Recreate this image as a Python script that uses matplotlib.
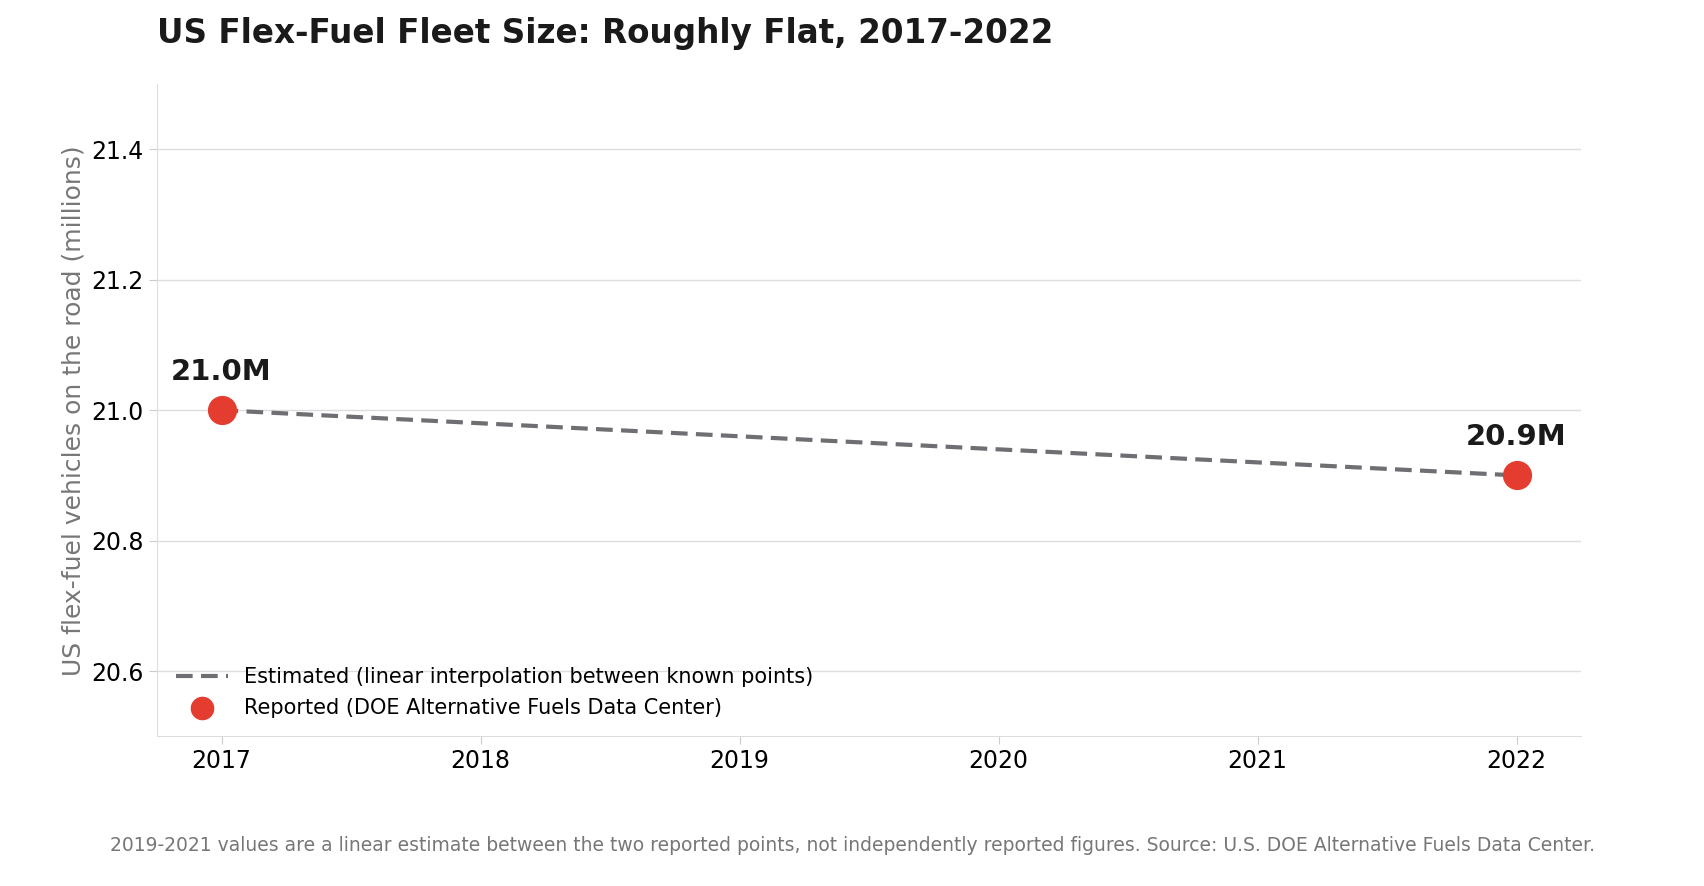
import matplotlib
matplotlib.use("Agg")
import matplotlib.pyplot as plt
plt.rcParams['font.family'] = ['DejaVu Sans']

years = [2017, 2018, 2019, 2020, 2021, 2022]
estimated = [21.0, 20.98, 20.96, 20.94, 20.92, 20.9]
rep_years = [2017, 2022]
reported = [21.0, 20.9]
rep_labels = ["21.0M", "20.9M"]

fig = plt.figure(figsize=(17.04, 8.86), dpi=100)
ax = fig.add_axes([0.092, 0.169, 0.836, 0.736])
ax.plot(years, estimated, ls="--", color="#6e6e73", lw=3, dashes=(4, 2),
        label="Estimated (linear interpolation between known points)", zorder=2)
ax.scatter(rep_years, reported, s=400, color="#e43d2f", zorder=3,
           label="Reported (DOE Alternative Fuels Data Center)")
for x, y, t in zip(rep_years, reported, rep_labels):
    ax.annotate(t, (x, y), xytext=(0, 22), textcoords="offset points", ha="center",
                fontsize=21, fontweight="bold", color="#1a1a1a")
ax.set_xlim(2016.75, 2022.25)
ax.set_ylim(20.5, 21.5)
ax.set_yticks([20.6, 20.8, 21.0, 21.2, 21.4])
ax.set_xticks(years)
ax.tick_params(labelsize=17, length=6, color="#cccccc")
ax.grid(axis="y", color="#dddddd", lw=1)
ax.set_axisbelow(True)
for s in ["top", "right"]:
    ax.spines[s].set_visible(False)
for s in ["left", "bottom"]:
    ax.spines[s].set_color("#dddddd")
ax.set_ylabel("US flex-fuel vehicles on the road (millions)", fontsize=18, color="#777777")
ax.legend(loc="lower left", frameon=False, fontsize=15, markerscale=0.8, handlelength=2.5)
fig.text(0.092, 0.962, "US Flex-Fuel Fleet Size: Roughly Flat, 2017-2022", fontsize=23.5,
         fontweight="bold", color="#1a1a1a", va="center")
fig.text(0.5, 0.04, "2019-2021 values are a linear estimate between the two reported points, not independently reported figures. Source: U.S. DOE Alternative Fuels Data Center.",
         fontsize=13.5, color="#777777", ha="center")
fig.savefig("out.png", dpi=100)
